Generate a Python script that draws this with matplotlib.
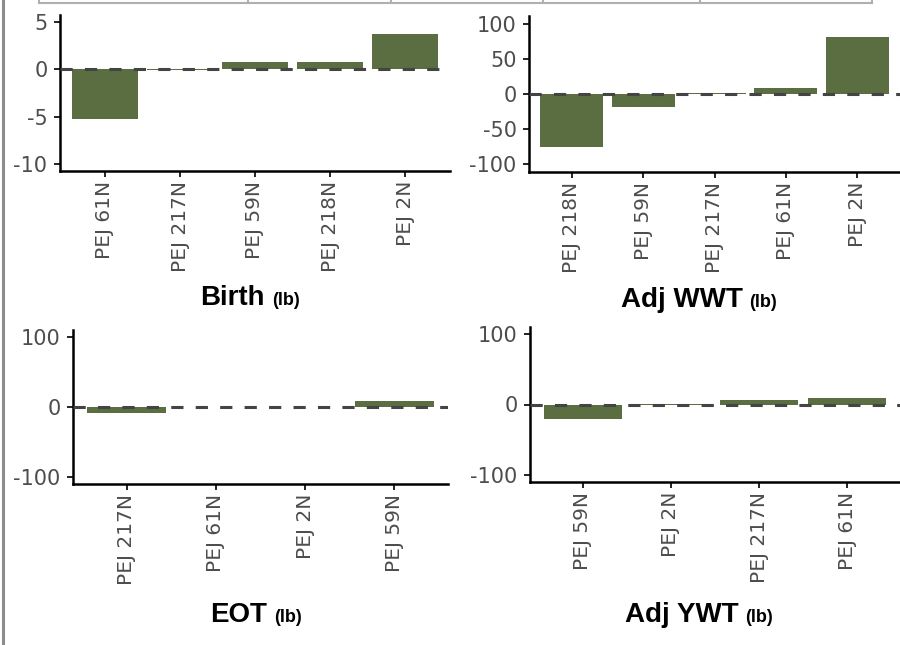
import matplotlib
matplotlib.use("Agg")
import matplotlib.pyplot as plt
from matplotlib.lines import Line2D

# bull names and EPD differences per trait
birth_names = ["PEJ 61N", "PEJ 217N", "PEJ 59N", "PEJ 218N", "PEJ 2N"]
birth_vals = [-5.2, -0.1, 0.75, 0.75, 3.7]

wwt_names = ["PEJ 218N", "PEJ 59N", "PEJ 217N", "PEJ 61N", "PEJ 2N"]
wwt_vals = [-76, -18.5, 1, 8.5, 81]

eot_names = ["PEJ 217N", "PEJ 61N", "PEJ 2N", "PEJ 59N"]
eot_vals = [-9, 0.3, 0.5, 9]

ywt_names = ["PEJ 59N", "PEJ 2N", "PEJ 217N", "PEJ 61N"]
ywt_vals = [-21, 0.5, 7, 9.5]

BAR = "#5a6e41"
W, H = 900, 645

fig = plt.figure(figsize=(9, 6.45), dpi=100)


def px_box(x0, y0, x1, y1):
    return [x0 / W, 1 - y1 / H, (x1 - x0) / W, (y1 - y0) / H]


def panel(box, names, vals, ylim, yticks):
    ax = fig.add_axes(px_box(*box))
    x = range(len(names))
    ax.bar(x, vals, width=0.88, color=BAR, zorder=2)
    ax.axhline(0, color="#444444", lw=2.2, ls=(0, (4, 4)), zorder=3)
    ax.set_xlim(-0.6, len(names) - 0.4)
    ax.set_ylim(*ylim)
    ax.set_yticks(yticks)
    ax.set_yticklabels([str(t) for t in yticks])
    ax.set_xticks(list(x))
    ax.set_xticklabels(names, rotation=90)
    for s in ["top", "right"]:
        ax.spines[s].set_visible(False)
    for s in ["left", "bottom"]:
        ax.spines[s].set_linewidth(1.8)
        ax.spines[s].set_color("black")
    ax.tick_params(length=4, width=1.4, color="#222222", labelcolor="#4d4d4d",
                   labelsize=14.5, pad=3)
    ax.tick_params(axis="y", labelsize=15, pad=5)
    ax.set_facecolor("none")
    return ax


panel((60, 15, 450, 171), birth_names, birth_vals, (-10.75, 5.75), [-10, -5, 0, 5])
panel((529, 16, 900, 172), wwt_names, wwt_vals, (-111, 111), [-100, -50, 0, 50, 100])
panel((73, 330, 448, 484), eot_names, eot_vals, (-110, 110), [-100, 0, 100])
panel((530, 327, 900, 482), ywt_names, ywt_vals, (-110, 110), [-100, 0, 100])

# titles: bold trait name followed by a smaller "(lb)"
titles = [("Birth", 250, 305), ("Adj WWT", 699, 307), ("EOT", 256, 622), ("Adj YWT", 699, 622)]
fig.canvas.draw()
rend = fig.canvas.get_renderer()
for name, cx, base in titles:
    t1 = fig.text(0, 1 - base / H, name, fontsize=20, fontweight="bold",
                  family="Liberation Sans", va="baseline", ha="left")
    t2 = fig.text(0, 1 - base / H, "(lb)", fontsize=13, fontweight="bold",
                  family="Liberation Sans", va="baseline", ha="left")
    w1 = t1.get_window_extent(rend).width
    w2 = t2.get_window_extent(rend).width
    gap = 7
    start = cx - (w1 + gap + w2) / 2
    t1.set_x(start / W)
    t2.set_x((start + w1 + gap) / W)

# frame remnants from the surrounding page: left rule and the cut-off table at the top
fig.add_artist(Line2D([2.5 / W, 2.5 / W], [0, 1], color="#8c8c8c", lw=2.2,
                      transform=fig.transFigure))
fig.add_artist(Line2D([39 / W, 872 / W], [1 - 3 / H, 1 - 3 / H], color="#b0b0b0", lw=1.5,
                      transform=fig.transFigure))
for xv in [39, 248, 391, 543, 700, 872]:
    fig.add_artist(Line2D([xv / W, xv / W], [1 - 3 / H, 1], color="#b0b0b0", lw=1.5,
                          transform=fig.transFigure))

fig.savefig("out.png", dpi=100)
